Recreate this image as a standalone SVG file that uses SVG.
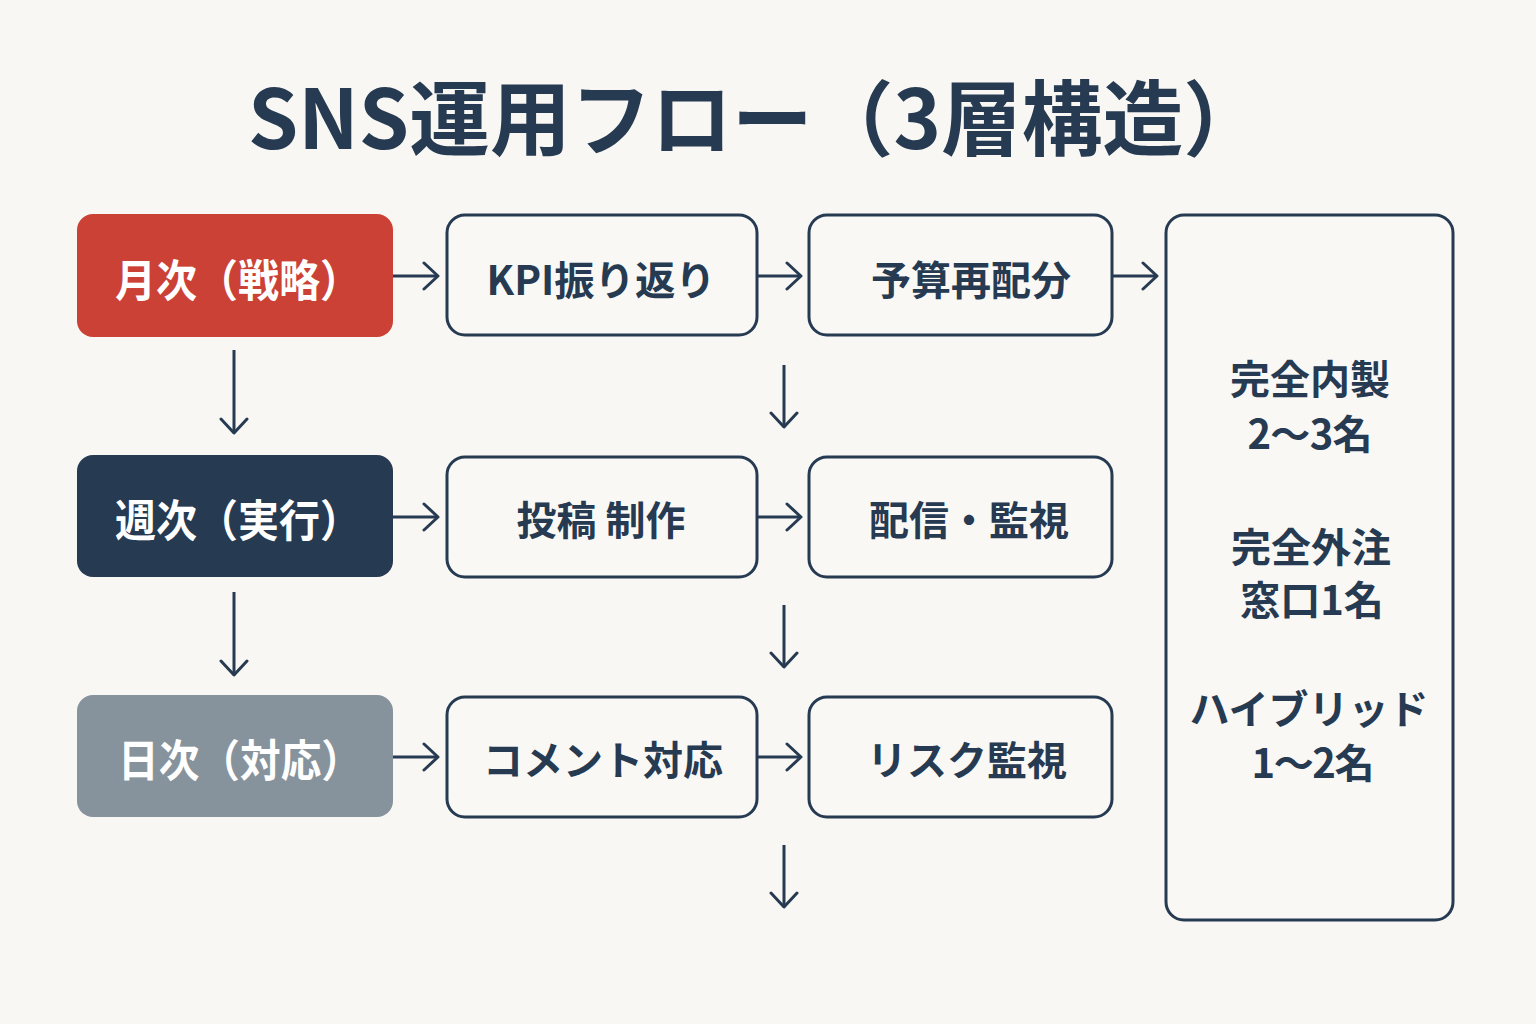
<svg xmlns="http://www.w3.org/2000/svg" width="1536" height="1024" viewBox="0 0 1536 1024">
<defs>
<style>
text{font-family:"Noto Sans CJK JP","Noto Sans",sans-serif;font-weight:700;text-anchor:middle;dominant-baseline:central;}
.lead text{fill:#ffffff;font-size:44px;}
.box rect{fill:#f9f8f5;stroke:#263a52;stroke-width:3;}
.box text{fill:#263a52;font-size:40px;}
.side text{fill:#263a52;font-size:40px;}
.conn line{stroke:#263a52;stroke-width:3;}
</style>
<marker id="ah" viewBox="0 0 22 30" refX="19" refY="15" markerWidth="22" markerHeight="30" markerUnits="userSpaceOnUse" orient="auto">
<path d="M5,2 L19,15 L5,28" fill="none" stroke="#263a52" stroke-width="3" stroke-linecap="round" stroke-linejoin="round"/>
</marker>
</defs>
<rect width="1536" height="1024" fill="#f8f7f3"/>
<text x="756" y="113" font-size="82" fill="#263a52" textLength="1016" lengthAdjust="spacingAndGlyphs">SNS運用フロー（3層構造）</text>

<g id="monthly" class="lead"><rect x="77" y="214" width="316" height="123" rx="16" fill="#cc4136"/><text x="238" y="278" textLength="246" lengthAdjust="spacingAndGlyphs">月次（戦略）</text></g>
<g id="weekly" class="lead"><rect x="77" y="455" width="316" height="122" rx="16" fill="#263a52"/><text x="238" y="518" textLength="246" lengthAdjust="spacingAndGlyphs">週次（実行）</text></g>
<g id="daily" class="lead"><rect x="77" y="695" width="316" height="122" rx="16" fill="#87939c"/><text x="240" y="758" textLength="244" lengthAdjust="spacingAndGlyphs">日次（対応）</text></g>

<g id="kpi" class="box"><rect x="447" y="215" width="310" height="120" rx="18"/><text x="601" y="278" textLength="229" lengthAdjust="spacingAndGlyphs">KPI振り返り</text></g>
<g id="budget" class="box"><rect x="809" y="215" width="303" height="120" rx="18"/><text x="971" y="278">予算再配分</text></g>
<g id="post" class="box"><rect x="447" y="457" width="310" height="120" rx="18"/><text x="601" y="518">投稿 制作</text></g>
<g id="deliver" class="box"><rect x="809" y="457" width="303" height="120" rx="18"/><text x="969" y="518" font-size="39">配信・監視</text></g>
<g id="comment" class="box"><rect x="447" y="697" width="310" height="120" rx="18"/><text x="603" y="758" font-size="38">コメント対応</text></g>
<g id="risk" class="box"><rect x="809" y="697" width="303" height="120" rx="18"/><text x="967" y="758" font-size="41">リスク監視</text></g>

<g id="staffing" class="side">
<rect x="1166" y="215" width="287" height="705" rx="18" fill="#f9f8f5" stroke="#263a52" stroke-width="3"/>
<text x="1310" y="377" font-size="44">完全内製</text>
<text x="1310" y="432" textLength="125" lengthAdjust="spacing">2～3名</text>
<text x="1311" y="545" font-size="44">完全外注</text>
<text x="1312" y="598">窓口1名</text>
<text x="1309" y="707" font-size="38">ハイブリッド</text>
<text x="1313" y="761" textLength="123" lengthAdjust="spacing">1～2名</text>
</g>

<g id="connectors" class="conn">
<line x1="393" y1="276" x2="438" y2="276" marker-end="url(#ah)"/>
<line x1="757" y1="276" x2="801" y2="276" marker-end="url(#ah)"/>
<line x1="1112" y1="276" x2="1157" y2="276" marker-end="url(#ah)"/>
<line x1="393" y1="517" x2="438" y2="517" marker-end="url(#ah)"/>
<line x1="757" y1="517" x2="801" y2="517" marker-end="url(#ah)"/>
<line x1="393" y1="757" x2="438" y2="757" marker-end="url(#ah)"/>
<line x1="757" y1="757" x2="801" y2="757" marker-end="url(#ah)"/>
<line x1="234" y1="350" x2="234" y2="433" marker-end="url(#ah)"/>
<line x1="234" y1="592" x2="234" y2="675" marker-end="url(#ah)"/>
<line x1="784" y1="365" x2="784" y2="427" marker-end="url(#ah)"/>
<line x1="784" y1="605" x2="784" y2="667" marker-end="url(#ah)"/>
<line x1="784" y1="845" x2="784" y2="907" marker-end="url(#ah)"/>
</g>
</svg>
